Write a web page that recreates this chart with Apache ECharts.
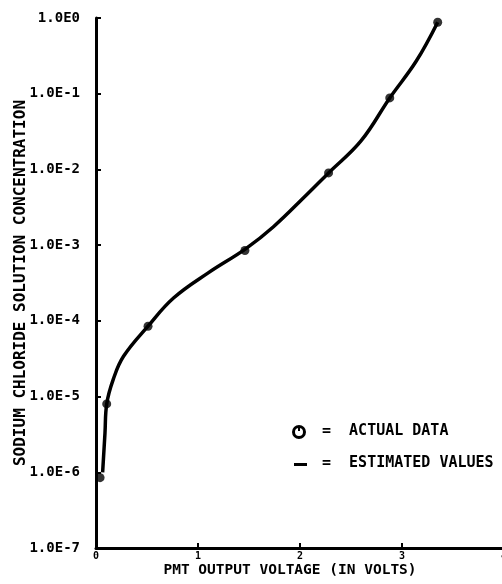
<!DOCTYPE html>
<html>
<head>
<meta charset="utf-8">
<script src="https://cdn.jsdelivr.net/npm/echarts@6/dist/echarts.min.js"></script>
<style>
html,body{margin:0;padding:0;background:#fff;}
#chart{width:502px;height:584px;}
</style>
</head>
<body>
<div id="chart"></div>
<script>
// Actual data points (PMT voltage, NaCl concentration)
const actualX = [0.04, 0.105, 0.51, 1.46, 2.28, 2.88, 3.35];
const actualY = [8.5e-7, 8e-6, 8.5e-5, 8.5e-4, 9e-3, 8.8e-2, 0.88];
// Estimated curve
const estX = [0.065, 0.088, 0.105, 0.17, 0.27, 0.51, 0.76, 1.1, 1.47, 1.74, 2.07, 2.28, 2.6, 2.88, 3.14, 3.35];
const estY = [1.0e-6, 3.3e-6, 8e-6, 1.7e-5, 3.4e-5, 8.5e-5, 2.0e-4, 4.3e-4, 9.0e-4, 1.75e-3, 4.7e-3, 9.0e-3, 2.4e-2, 8.8e-2, 0.27, 0.88];
const yTickLabels = {0:'1.0E0', '-1':'1.0E-1', '-2':'1.0E-2', '-3':'1.0E-3', '-4':'1.0E-4', '-5':'1.0E-5', '-6':'1.0E-6', '-7':'1.0E-7'};
const xTitle = 'PMT OUTPUT VOLTAGE (IN VOLTS)';
const yTitle = 'SODIUM CHLORIDE SOLUTION CONCENTRATION';
const legendActual = '=  ACTUAL DATA';
const legendEst = '=  ESTIMATED VALUES';

const FONT = 'DejaVu Sans Mono';
const chart = echarts.init(document.getElementById('chart'), null, {renderer: 'canvas'});
chart.setOption({
  backgroundColor: '#fff',
  animation: false,
  grid: {left: 96, top: 18, width: 408, height: 530, containLabel: false, outerBoundsMode: 'none'},
  xAxis: {
    type: 'value', min: 0, max: 4, interval: 1,
    name: xTitle, nameLocation: 'middle', nameGap: 15, nameMoveOverlap: false,
    nameTextStyle: {fontFamily: FONT, fontWeight: 'bold', fontSize: 14.5, color: '#000', padding: [0, 20, 0, 0]},
    axisLine: {show: true, lineStyle: {color: '#000', width: 3}},
    axisTick: {show: true, inside: true, length: 5, lineStyle: {color: '#000', width: 2}},
    axisLabel: {fontFamily: FONT, fontWeight: 'bold', fontSize: 10, color: '#000', margin: 3},
    splitLine: {show: false}
  },
  yAxis: {
    type: 'log', logBase: 10, min: 1e-7, max: 1,
    name: yTitle, nameLocation: 'middle', nameGap: 67, nameRotate: 90, nameMoveOverlap: false,
    nameTextStyle: {fontFamily: FONT, fontWeight: 'bold', fontSize: 16, color: '#000'},
    axisLine: {show: true, lineStyle: {color: '#000', width: 3}},
    axisTick: {show: true, inside: true, length: 5, lineStyle: {color: '#000', width: 2}},
    axisLabel: {fontFamily: FONT, fontWeight: 'bold', fontSize: 14, color: '#000', margin: 16,
      formatter: function (v) { const e = Math.round(Math.log10(v)); return yTickLabels[e] || ''; }},
    splitLine: {show: false}
  },
  series: [
    {
      name: 'ESTIMATED VALUES', type: 'line', smooth: 0.4, showSymbol: false,
      data: estX.map((x, i) => [x, estY[i]]),
      lineStyle: {color: '#000', width: 3.5}, z: 2
    },
    {
      name: 'ACTUAL DATA', type: 'scatter', symbol: 'circle', symbolSize: 9,
      data: actualX.map((x, i) => [x, actualY[i]]),
      itemStyle: {color: '#000'}, z: 3
    }
  ],
  graphic: [
    {type: 'circle', shape: {cx: 299, cy: 432, r: 5.5}, style: {fill: '#fff', stroke: '#000', lineWidth: 3}},
    {type: 'rect', shape: {x: 298, y: 426, width: 2, height: 5}, style: {fill: '#000'}},
    {type: 'text', left: 322, top: 424, style: {text: legendActual, font: 'bold 15px "DejaVu Sans Mono"', fill: '#000'}},
    {type: 'rect', shape: {x: 294, y: 463, width: 13, height: 3}, style: {fill: '#000'}},
    {type: 'text', left: 322, top: 456, style: {text: legendEst, font: 'bold 15px "DejaVu Sans Mono"', fill: '#000'}}
  ]
});
</script>
</body>
</html>
